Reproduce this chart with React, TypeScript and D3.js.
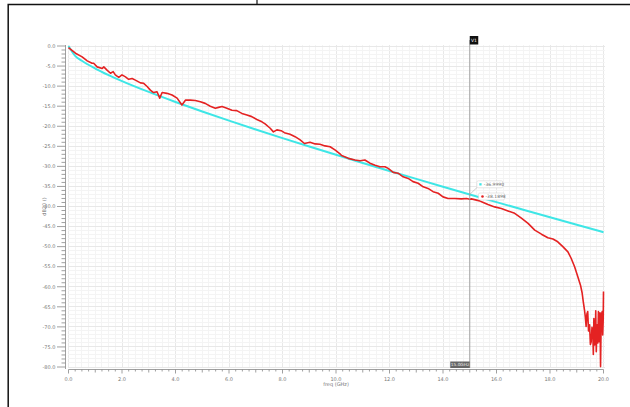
import React, { useEffect, useRef } from "react";
import * as d3 from "d3";

// axis ticks
const freqTicks = [0, 2, 4, 6, 8, 10, 12, 14, 16, 18, 20];
const dbTicks = [0, -5, -10, -15, -20, -25, -30, -35, -40, -45, -50, -55, -60, -65, -70, -75, -80];

// fitted loss curve (cyan)
const fitFreq = [0, 0.25, 0.5, 1, 1.5, 2, 3, 4, 5, 6, 7, 8, 9, 10, 11, 12, 13, 14, 15, 16, 17, 18, 19, 20];
const fitDb = [0, -2.46, -3.68, -5.61, -7.25, -8.74, -11.45, -13.96, -16.34, -18.61, -20.81, -22.96, -25.06, -27.12,
  -29.15, -31.15, -33.12, -35.07, -37.0, -38.91, -40.8, -42.68, -44.55, -46.4];

// measured dB20 (red)
const measFreq = [0, 0.26, 0.51, 0.7, 0.88, 0.94, 1.07, 1.26, 1.32, 1.44, 1.57, 1.67, 1.75, 1.88, 2.0, 2.13, 2.25, 2.38,
  2.5, 2.69, 2.81, 2.94, 3.06, 3.18, 3.31, 3.41, 3.5, 3.68, 3.87, 4.06, 4.24, 4.37, 4.55, 4.74, 4.93, 5.11, 5.3, 5.49,
  5.61, 5.74, 5.92, 6.11, 6.29, 6.48, 6.67, 6.85, 7.04, 7.23, 7.35, 7.54, 7.66, 7.79, 7.95, 8.07, 8.28, 8.47, 8.66,
  8.82, 9.03, 9.22, 9.4, 9.59, 9.78, 9.96, 10.15, 10.21, 10.46, 10.71, 10.9, 11.08, 11.27, 11.46, 11.64, 11.83, 11.95,
  12.14, 12.32, 12.51, 12.7, 12.88, 13.07, 13.26, 13.44, 13.63, 13.82, 14.0, 14.19, 14.44, 14.69, 14.88, 15.0, 15.06,
  15.37, 15.44, 15.68, 15.93, 16.18, 16.43, 16.68, 16.93, 17.18, 17.43, 17.68, 17.92, 18.11, 18.29, 18.48, 18.67,
  18.79, 18.92, 19.04, 19.14, 19.2, 19.25, 19.29, 19.32, 19.35, 19.38, 19.41, 19.44, 19.48, 19.51, 19.54, 19.57, 19.6,
  19.62, 19.64, 19.67, 19.69, 19.71, 19.73, 19.75, 19.77, 19.79, 19.81, 19.83, 19.85, 19.87, 19.89, 19.91, 19.93,
  19.95, 19.97, 19.99, 20.0];
const measDb = [-0.4, -1.8, -2.7, -3.7, -4.3, -4.3, -5.2, -5.6, -5.2, -6.0, -6.8, -6.4, -7.2, -7.8, -7.2, -7.7, -8.3,
  -8.1, -8.5, -9.2, -9.3, -10.1, -11.0, -11.6, -11.4, -13.0, -11.6, -11.8, -12.2, -13.0, -14.7, -13.5, -13.5, -13.6,
  -13.9, -14.3, -15.0, -15.5, -15.3, -15.1, -15.5, -16.0, -16.1, -16.8, -17.2, -17.6, -18.3, -18.9, -19.4, -20.5,
  -21.4, -20.9, -21.1, -21.6, -22.0, -22.6, -23.4, -24.3, -24.0, -24.4, -24.5, -24.9, -25.1, -25.9, -26.9, -27.3,
  -28.0, -28.4, -28.6, -28.4, -29.2, -29.7, -30.1, -30.1, -30.5, -31.5, -31.7, -32.6, -33.0, -33.8, -34.2, -35.1,
  -35.5, -36.3, -36.7, -37.6, -38.0, -38.0, -38.1, -38.0, -38.19, -38.1, -38.6, -38.8, -39.5, -40.1, -40.5, -41.1,
  -41.7, -42.9, -44.2, -45.9, -46.9, -47.8, -48.1, -48.8, -50.0, -51.3, -52.9, -55.0, -57.5, -59.6, -61.5, -64.0,
  -65.8, -67.5, -69.9, -66.8, -66.2, -71.0, -69.5, -74.4, -73.7, -70.1, -71.2, -76.9, -67.9, -74.5, -72.9, -66.0,
  -76.2, -71.4, -69.5, -74.0, -66.2, -70.5, -73.7, -66.5, -79.9, -69.5, -66.7, -66.2, -72.0, -67.9, -61.2];

const cursorFreq = 15.0;
const cursorName = "V1";
const fitMarkerText = "-36.9990";
const measMarkerText = "-38.1898";

const W = 630;
const H = 407;

function drawChart(el: SVGSVGElement) {
  const svg = d3.select(el);
  svg.selectAll("*").remove();

  const x = d3.scaleLinear().domain([0, 20]).range([68.5, 603.5]);
  const y = d3.scaleLinear().domain([0, -80]).range([46, 367]);
  const font = "DejaVu Sans, sans-serif";

  svg.append("rect").attr("width", W).attr("height", H).attr("fill", "#fff");

  // outer frame
  svg.append("rect").attr("x", 8.2).attr("y", 4.5).attr("width", 700).attr("height", 500)
    .attr("fill", "none").attr("stroke", "#111").attr("stroke-width", 1.5);
  svg.append("line").attr("x1", 257).attr("x2", 257).attr("y1", 0).attr("y2", 4.5)
    .attr("stroke", "#111").attr("stroke-width", 1.2);

  // grid (very faint)
  const minorX = d3.range(0, 20.001, 0.25);
  const minorY = d3.range(0, -80.001, -1);
  const grid = svg.append("g").attr("shape-rendering", "crispEdges");
  grid.selectAll(".gx").data(minorX).enter().append("line")
    .attr("x1", d => x(d)).attr("x2", d => x(d)).attr("y1", y(0) - 1).attr("y2", y(-80) + 1)
    .attr("stroke", d => (Math.abs(d % 2) < 1e-6 ? "#e8e8e8" : "#f4f4f4"));
  grid.selectAll(".gy").data(minorY).enter().append("line")
    .attr("y1", d => y(d)).attr("y2", d => y(d)).attr("x1", x(0) - 1).attr("x2", x(20) + 1)
    .attr("stroke", d => (Math.abs(d % 5) < 1e-6 ? "#e8e8e8" : "#f4f4f4"));

  // y axis
  const ya = svg.append("g").attr("stroke", "#888").attr("stroke-width", 0.8);
  ya.append("line").attr("x1", 65.5).attr("x2", 65.5).attr("y1", y(0) - 1).attr("y2", y(-80) + 2);
  ya.selectAll(".ym").data(minorY).enter().append("line")
    .attr("y1", d => y(d)).attr("y2", d => y(d))
    .attr("x1", d => (Math.abs(d % 5) < 1e-6 ? 57 : 61.5)).attr("x2", 65.5);
  svg.append("g").selectAll("text").data(dbTicks).enter().append("text")
    .attr("x", 55.5).attr("y", d => y(d)).attr("dy", "0.35em")
    .attr("text-anchor", "end").attr("font-family", font).attr("font-size", 5).attr("fill", "#777")
    .text(d => d.toFixed(1));
  svg.append("text").attr("transform", `translate(46,${y(-40)}) rotate(-90)`)
    .attr("text-anchor", "middle").attr("font-family", font).attr("font-size", 5).attr("fill", "#777")
    .text("dB20 ()");

  // x axis
  const xa = svg.append("g").attr("stroke", "#888").attr("stroke-width", 0.8);
  const axY = 369.5;
  xa.append("line").attr("x1", x(0)).attr("x2", x(20)).attr("y1", axY).attr("y2", axY);
  xa.selectAll(".xm").data(minorX).enter().append("line")
    .attr("x1", d => x(d)).attr("x2", d => x(d)).attr("y1", axY)
    .attr("y2", d => (Math.abs(d % 2) < 1e-6 ? axY + 4 : Math.abs(d % 1) < 1e-6 ? axY + 3 : axY + 2));
  svg.append("g").selectAll("text").data(freqTicks).enter().append("text")
    .attr("x", d => x(d)).attr("y", 379.5).attr("dy", "0.35em")
    .attr("text-anchor", "middle").attr("font-family", font).attr("font-size", 5).attr("fill", "#777")
    .text(d => d.toFixed(1));
  svg.append("text").attr("x", x(10)).attr("y", 384.5).attr("dy", "0.35em")
    .attr("text-anchor", "middle").attr("font-family", font).attr("font-size", 5).attr("fill", "#777")
    .text("freq (GHz)");

  // traces
  const fitData = fitFreq.map((f, i) => [f, fitDb[i]] as [number, number]);
  const measData = measFreq.map((f, i) => [f, measDb[i]] as [number, number]);
  const line = d3.line<[number, number]>().x(d => x(d[0])).y(d => y(d[1]));

  svg.append("path").attr("d", line.curve(d3.curveMonotoneX)(fitData) as string)
    .attr("fill", "none").attr("stroke", "#3ee6e6").attr("stroke-width", 2);
  svg.append("path").attr("d", line.curve(d3.curveLinear)(measData) as string)
    .attr("fill", "none").attr("stroke", "#e42222").attr("stroke-width", 1.6).attr("stroke-linejoin", "round");

  // cursor
  const cx = x(cursorFreq);
  svg.append("line").attr("x1", cx).attr("x2", cx).attr("y1", 40).attr("y2", y(-80) + 1)
    .attr("stroke", "#999").attr("stroke-width", 0.9);
  svg.append("rect").attr("x", cx).attr("y", 36).attr("width", 8.5).attr("height", 8.5).attr("fill", "#111");
  svg.append("text").attr("x", cx + 4.25).attr("y", 40.3).attr("dy", "0.35em").attr("text-anchor", "middle")
    .attr("font-family", font).attr("font-size", 4.5).attr("fill", "#fff").text(cursorName);
  svg.append("rect").attr("x", cx - 19.5).attr("y", 361.5).attr("width", 19.5).attr("height", 6.5)
    .attr("fill", "#666");
  svg.append("text").attr("x", cx - 9.75).attr("y", 364.8).attr("dy", "0.35em").attr("text-anchor", "middle")
    .attr("font-family", font).attr("font-size", 4.3).attr("fill", "#eee").text(cursorFreq.toFixed(1) + "GHz");

  // marker labels
  const fy = y(+fitMarkerText);
  svg.append("line").attr("x1", cx).attr("y1", fy).attr("x2", 477).attr("y2", 187.5)
    .attr("stroke", "#aaa").attr("stroke-width", 0.6);
  const lab = (bx: number, by: number, color: string, txt: string, square: boolean) => {
    svg.append("rect").attr("x", bx).attr("y", by).attr("width", 26).attr("height", 7).attr("rx", 1.5)
      .attr("fill", "#fff").attr("stroke", "#ccc").attr("stroke-width", 0.5);
    if (square) {
      svg.append("rect").attr("x", bx + 2.5).attr("y", by + 2.4).attr("width", 2.3).attr("height", 2.3).attr("fill", color);
    } else {
      svg.append("circle").attr("cx", bx + 4).attr("cy", by + 3.5).attr("r", 1.3).attr("fill", color);
    }
    svg.append("text").attr("x", bx + 7).attr("y", by + 3.5).attr("dy", "0.35em")
      .attr("font-family", font).attr("font-size", 4.5).attr("fill", "#666").text(txt);
  };
  lab(476.8, 180.8, "#3ee6e6", fitMarkerText, true);
  lab(478.5, 193, "#e42222", measMarkerText, false);
}

export default function App() {
  const ref = useRef<SVGSVGElement>(null);
  useEffect(() => {
    if (ref.current) drawChart(ref.current);
  }, []);
  return (
    <svg ref={ref} width={W} height={H}
      style={{ position: "absolute", left: 0, top: 0, display: "block" }} />
  );
}
